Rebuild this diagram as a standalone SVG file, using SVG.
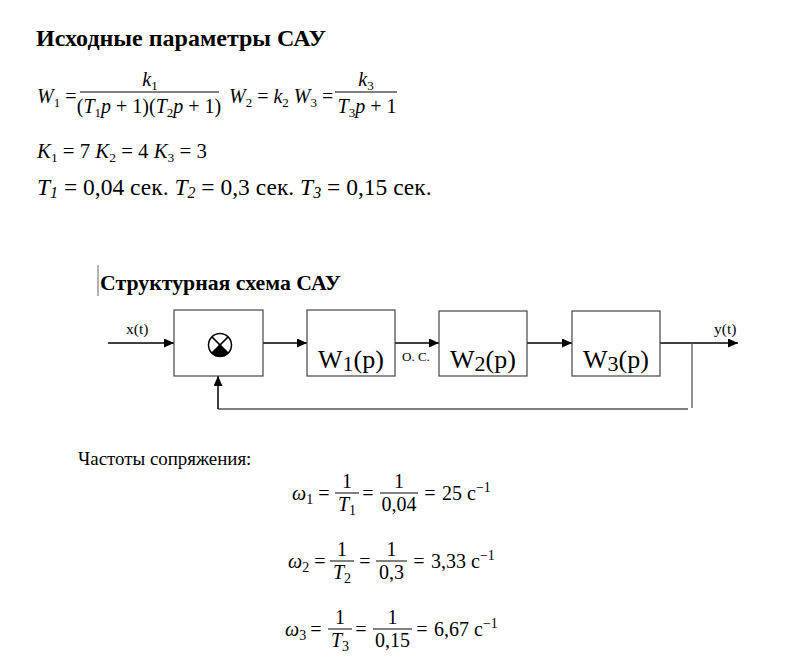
<svg xmlns="http://www.w3.org/2000/svg" width="803" height="667" viewBox="0 0 803 667" font-family="'Liberation Serif', serif">
<defs>
<marker id="ah" markerUnits="userSpaceOnUse" markerWidth="11" markerHeight="9" refX="10" refY="4.5" orient="auto">
<path d="M0,0 L10,4.5 L0,9 z" fill="#000"/>
</marker>
<style>
text{font-family:'Liberation Serif',serif;fill:#000}
.i{font-style:italic}
.blk{fill:#fff;stroke:#444;stroke-width:1.2}
.conn line{stroke:#000;stroke-width:1.5;fill:none}
.conn .fb{stroke:#555;stroke-width:1.3}
.bar{stroke:#000;stroke-width:1}
</style>
</defs>
<rect width="803" height="667" fill="#fff"/>

<text x="36" y="46" font-weight="bold" font-size="24">Исходные параметры САУ</text>

<g id="formula-w" font-size="20">
<text x="37" y="103"><tspan class="i">W</tspan><tspan font-size="13" dy="4">1</tspan><tspan dy="-4"> =</tspan></text>
<line class="bar" x1="80" y1="92" x2="219" y2="92"/>
<text x="150" y="86" text-anchor="middle"><tspan class="i">k</tspan><tspan font-size="13" dy="4">1</tspan></text>
<text x="149" y="113" text-anchor="middle">(<tspan class="i">T</tspan><tspan font-size="13" dy="4">1</tspan><tspan class="i" dy="-4">p</tspan> + 1)(<tspan class="i">T</tspan><tspan font-size="13" dy="4">2</tspan><tspan class="i" dy="-4">p</tspan> + 1)</text>
<text x="229" y="103"><tspan class="i">W</tspan><tspan font-size="13" dy="4">2</tspan><tspan dy="-4"> = </tspan><tspan class="i">k</tspan><tspan font-size="13" dy="4">2</tspan><tspan dy="-4"> </tspan><tspan class="i">W</tspan><tspan font-size="13" dy="4">3</tspan><tspan dy="-4"> =</tspan></text>
<line class="bar" x1="335" y1="92" x2="397" y2="92"/>
<text x="366" y="86" text-anchor="middle"><tspan class="i">k</tspan><tspan font-size="13" dy="4">3</tspan></text>
<text x="367" y="113" text-anchor="middle"><tspan class="i">T</tspan><tspan font-size="13" dy="4">3</tspan><tspan class="i" dy="-4">p</tspan> + 1</text>
</g>

<text x="37" y="158" font-size="20.8"><tspan class="i">K</tspan><tspan font-size="13.5" dy="4">1</tspan><tspan dy="-4"> = 7 </tspan><tspan class="i">K</tspan><tspan font-size="13.5" dy="4">2</tspan><tspan dy="-4"> = 4 </tspan><tspan class="i">K</tspan><tspan font-size="13.5" dy="4">3</tspan><tspan dy="-4"> = 3</tspan></text>

<text x="37" y="195" font-size="23.5"><tspan class="i">T</tspan><tspan class="i" font-size="16" dy="3">1</tspan><tspan dy="-3"> = 0,04 сек. </tspan><tspan class="i">T</tspan><tspan class="i" font-size="16" dy="3">2</tspan><tspan dy="-3"> = 0,3 сек. </tspan><tspan class="i">T</tspan><tspan class="i" font-size="16" dy="3">3</tspan><tspan dy="-3"> = 0,15 сек.</tspan></text>

<line x1="98" y1="265" x2="98" y2="296" stroke="#666" stroke-width="1"/>
<text x="100" y="290" font-weight="bold" font-size="21.8">Структурная схема САУ</text>

<g class="conn" id="connectors">
<line x1="108" y1="343" x2="174" y2="343" marker-end="url(#ah)"/>
<line x1="263" y1="343" x2="307" y2="343" marker-end="url(#ah)"/>
<line x1="395" y1="343" x2="439" y2="343" marker-end="url(#ah)"/>
<line x1="527" y1="343" x2="572" y2="343" marker-end="url(#ah)"/>
<line x1="660" y1="343" x2="738" y2="343" marker-end="url(#ah)"/>
<line class="fb" x1="692" y1="343" x2="692" y2="408"/>
<line class="fb" x1="688" y1="409" x2="218" y2="409"/>
<line x1="218" y1="409" x2="218" y2="376" marker-end="url(#ah)"/>
</g>
<text x="126" y="334" font-size="15.5">x(t)</text>
<text x="714" y="334" font-size="15.5">y(t)</text>
<text x="402" y="361" font-size="13">O. C.</text>

<g id="summer">
<rect class="blk" x="174" y="310" width="89" height="66"/>
<circle cx="220" cy="345" r="11.5" fill="#fff" stroke="#000" stroke-width="1.5"/>
<path d="M220,345 L211.9,353.1 A11.5,11.5 0 0 0 228.1,353.1 Z" fill="#000"/>
<line x1="211.9" y1="336.9" x2="228.1" y2="353.1" stroke="#000" stroke-width="1.5"/>
<line x1="228.1" y1="336.9" x2="211.9" y2="353.1" stroke="#000" stroke-width="1.5"/>
</g>
<g id="W1">
<rect class="blk" x="307" y="310" width="88" height="66"/>
<text x="351" y="368" text-anchor="middle" font-size="26">W<tspan font-size="22" dy="3">1</tspan><tspan dy="-3">(p)</tspan></text>
</g>
<g id="W2">
<rect class="blk" x="439" y="311" width="88" height="65"/>
<text x="483" y="368" text-anchor="middle" font-size="26">W<tspan font-size="22" dy="3">2</tspan><tspan dy="-3">(p)</tspan></text>
</g>
<g id="W3">
<rect class="blk" x="572" y="311" width="88" height="65"/>
<text x="616" y="368" text-anchor="middle" font-size="26">W<tspan font-size="22" dy="3">3</tspan><tspan dy="-3">(p)</tspan></text>
</g>

<text x="78" y="465" font-size="18.9">Частоты сопряжения:</text>

<g id="omega1" font-size="20">
<text x="292" y="500"><tspan class="i">ω</tspan><tspan font-size="14" dy="4">1</tspan></text>
<text x="324" y="500" text-anchor="middle">=</text>
<line class="bar" x1="335" y1="493" x2="359" y2="493"/>
<text x="347" y="488" text-anchor="middle">1</text>
<text x="347" y="511" text-anchor="middle"><tspan class="i">T</tspan><tspan font-size="14" dy="4">1</tspan></text>
<text x="368" y="500" text-anchor="middle">=</text>
<line class="bar" x1="380" y1="493" x2="418" y2="493"/>
<text x="399" y="488" text-anchor="middle">1</text>
<text x="399" y="511" text-anchor="middle">0,04</text>
<text x="430" y="500" text-anchor="middle">=</text>
<text x="442" y="500">25 с<tspan font-size="14" dy="-8">−1</tspan></text>
</g>

<g id="omega2" font-size="20">
<text x="288" y="568"><tspan class="i">ω</tspan><tspan font-size="14" dy="4">2</tspan></text>
<text x="320" y="568" text-anchor="middle">=</text>
<line class="bar" x1="330" y1="561" x2="354" y2="561"/>
<text x="342" y="556" text-anchor="middle">1</text>
<text x="342" y="579" text-anchor="middle"><tspan class="i">T</tspan><tspan font-size="14" dy="4">2</tspan></text>
<text x="365" y="568" text-anchor="middle">=</text>
<line class="bar" x1="376" y1="561" x2="407" y2="561"/>
<text x="391.5" y="556" text-anchor="middle">1</text>
<text x="391.5" y="579" text-anchor="middle">0,3</text>
<text x="419" y="568" text-anchor="middle">=</text>
<text x="431" y="568">3,33 с<tspan font-size="14" dy="-8">−1</tspan></text>
</g>

<g id="omega3" font-size="20">
<text x="285" y="636"><tspan class="i">ω</tspan><tspan font-size="14" dy="4">3</tspan></text>
<text x="316" y="636" text-anchor="middle">=</text>
<line class="bar" x1="328" y1="629" x2="352" y2="629"/>
<text x="340" y="624" text-anchor="middle">1</text>
<text x="340" y="647" text-anchor="middle"><tspan class="i">T</tspan><tspan font-size="14" dy="4">3</tspan></text>
<text x="361" y="636" text-anchor="middle">=</text>
<line class="bar" x1="373" y1="629" x2="412" y2="629"/>
<text x="392.5" y="624" text-anchor="middle">1</text>
<text x="392.5" y="647" text-anchor="middle">0,15</text>
<text x="422" y="636" text-anchor="middle">=</text>
<text x="434" y="636">6,67 с<tspan font-size="14" dy="-8">−1</tspan></text>
</g>
</svg>
